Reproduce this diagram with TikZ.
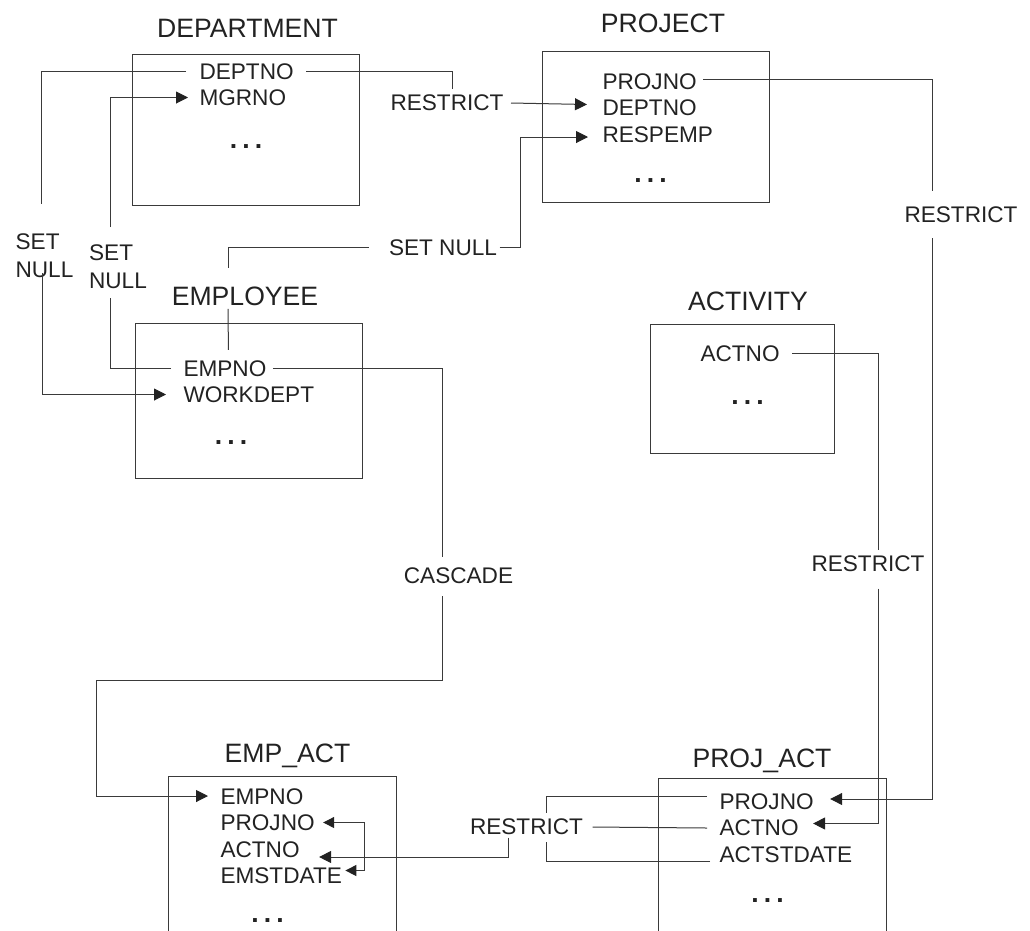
\documentclass[tikz,border=0pt]{standalone}
\usepackage{fontspec}
\setmainfont{Liberation Sans}
\usetikzlibrary{positioning, arrows.meta}
\definecolor{inkDark}{HTML}{222222}
\definecolor{lineGrey}{HTML}{3A3A3A}
\newcommand{\fldfont}{\fontsize{22.6}{28}\selectfont}
\newcommand{\ttlfont}{\fontsize{26.6}{30}\selectfont}

\begin{document}
\begin{tikzpicture}[x=1pt, y=-1pt, line width=1pt, lineGrey, text=inkDark,
    tbl/.style={draw=lineGrey, inner sep=0pt, minimum width=227pt},
    ttl/.style={font=\ttlfont, inner sep=0pt, anchor=base},
    fld/.style={font=\fldfont, anchor=west, inner xsep=12pt, inner ysep=0.25pt,
                text height=20.6pt, text depth=4.4pt},
    lbl/.style={font=\fldfont, inner sep=0pt, align=left},
    ellip/.style={font=\ttlfont\bfseries, inner sep=0pt, anchor=base},
    arr/.style={-{Triangle[length=12pt, width=12pt, color=inkDark]}}]
    \useasboundingbox (0,0) rectangle (1030,930);
    \clip (0,0) rectangle (1030,930);

    % DEPARTMENT
    \node[tbl, minimum height=151pt] (dept) at (245.5,129.5) {};
    \node[ttl] (dTitle) at (247.5,37) {DEPARTMENT};
    \node[fld] (dDeptno) at (187,71) {DEPTNO};
    \node[fld, below=0pt of dDeptno.south west, anchor=north west] (dMgrno) {MGRNO};
    \node[ellip] (dDots) at (246,148) {.\hspace{5.1pt}.\hspace{5.1pt}.};

    % PROJECT
    \node[tbl, minimum height=151pt] (proj) at (655.5,126.5) {};
    \node[ttl] (pTitle) at (663,32) {PROJECT};
    \node[fld] (pProjno) at (590,81) {PROJNO};
    \node[fld, below=0pt of pProjno.south west, anchor=north west] (pDeptno) {DEPTNO};
    \node[fld, below=0pt of pDeptno.south west, anchor=north west] (pRespemp) {RESPEMP};
    \node[ellip] (pDots) at (650.5,182) {.\hspace{5.1pt}.\hspace{5.1pt}.};

    % EMPLOYEE
    \node[tbl, minimum height=155pt] (emp) at (248.5,400.5) {};
    \node[ttl] (eTitle) at (245,305) {EMPLOYEE};
    \node[fld] (eEmpno) at (171,368) {EMPNO};
    \node[fld, below=0pt of eEmpno.south west, anchor=north west] (eWorkdept) {WORKDEPT};
    \node[ellip] (eDots) at (231,444) {.\hspace{5.1pt}.\hspace{5.1pt}.};

    % ACTIVITY
    \node[tbl, minimum width=184pt, minimum height=129pt] (act) at (742,388.5) {};
    \node[ttl] (aTitle) at (748,310) {ACTIVITY};
    \node[fld] (aActno) at (688,353) {ACTNO};
    \node[ellip] (aDots) at (747.5,404) {.\hspace{5.1pt}.\hspace{5.1pt}.};

    % EMP_ACT
    \node[tbl, minimum width=228pt, minimum height=200pt] (empAct) at (282,876) {};
    \node[ttl] (xTitle) at (287.5,762) {EMP\_ACT};
    \node[fld] (xEmpno) at (208,796) {EMPNO};
    \node[fld, below=0pt of xEmpno.south west, anchor=north west] (xProjno) {PROJNO};
    \node[fld, below=0pt of xProjno.south west, anchor=north west] (xActno) {ACTNO};
    \node[fld, below=0pt of xActno.south west, anchor=north west] (xEmstdate) {EMSTDATE};
    \node[ellip] (xDots) at (267.5,922) {.\hspace{5.1pt}.\hspace{5.1pt}.};

    % PROJ_ACT
    \node[tbl, minimum width=228pt, minimum height=200pt] (projAct) at (772,878) {};
    \node[ttl] (qTitle) at (762,767) {PROJ\_ACT};
    \node[fld] (qProjno) at (707,801) {PROJNO};
    \node[fld, below=0pt of qProjno.south west, anchor=north west] (qActno) {ACTNO};
    \node[fld, below=0pt of qActno.south west, anchor=north west] (qActstdate) {ACTSTDATE};
    \node[ellip] (qDots) at (767.5,902) {.\hspace{5.1pt}.\hspace{5.1pt}.};

    % delete rules
    \node[lbl] (snDept) at (44.5,255.5) {SET\\NULL};
    \draw ([xshift=-1pt]dDeptno.west) -| ([xshift=-3.5pt,yshift=29pt]snDept.north);
    \draw[arr] ([xshift=-2.5pt,yshift=5pt]snDept.south) |- ([xshift=-5pt]eWorkdept.west);

    \node[lbl] (snMgr) at (118,266.5) {SET\\NULL};
    \draw (eEmpno.west) -| ([xshift=-7.5pt,yshift=-9pt]snMgr.south);
    \draw[arr] ([xshift=-7.5pt,yshift=17pt]snMgr.north) |- ([xshift=1pt]dMgrno.west);

    \node[lbl] (rsDept) at (447,103) {RESTRICT};
    \draw (dDeptno.east) -| ([xshift=5pt,yshift=6pt]rsDept.north);
    \draw[arr] ([xshift=7pt]rsDept.east) -- ([xshift=-3pt,yshift=3pt]pDeptno.west);

    \node[lbl] (snResp) at (443,247.5) {SET NULL};
    \draw ([xshift=3.5pt,yshift=5pt]eEmpno.north) -- ([xshift=-17pt,yshift=-3pt]eTitle.south);
    \draw ([xshift=-17pt,yshift=18pt]eTitle.north) |- ([xshift=-19pt]snResp.west);
    \draw[arr] ([xshift=2pt]snResp.east) -- ++(21,0) |- ([xshift=-2pt,yshift=-3pt]pRespemp.west);

    \node[lbl] (rsProj) at (961,214.5) {RESTRICT};
    \draw ([xshift=-6pt,yshift=2pt]pProjno.east) -| ([xshift=-29pt,yshift=15pt]rsProj.north);
    \draw[arr] ([xshift=-29pt,yshift=-15pt]rsProj.south) |- ([xshift=4pt,yshift=2pt]qProjno.east);

    \node[lbl] (rsAct) at (868,564) {RESTRICT};
    \draw (aActno.east) -| ([xshift=10pt,yshift=6pt]rsAct.north);
    \draw[arr] ([xshift=10pt,yshift=-16pt]rsAct.south) |- ([xshift=2pt,yshift=4pt]qActno.east);

    \node[lbl] (cascade) at (458.5,575.5) {CASCADE};
    \draw ([xshift=-6pt]eEmpno.east) -| ([xshift=-16.5pt,yshift=10pt]cascade.north);
    \draw[arr] ([xshift=-16.5pt,yshift=-12pt]cascade.south) |- ++(-346,84) |- (xEmpno.west);

    \node[lbl] (rsEmp) at (526.5,827) {RESTRICT};
    \draw ([yshift=5pt]qProjno.west) -| ([xshift=19.5pt,yshift=6pt]rsEmp.north);
    \draw ([yshift=-0.5pt]qActno.west) -- ([xshift=9pt]rsEmp.east);
    \draw ([xshift=3pt,yshift=-7pt]qActstdate.west) -| ([xshift=19.5pt,yshift=-6pt]rsEmp.south);
    \draw[arr] ([xshift=-18.5pt,yshift=-2pt]rsEmp.south) |- ([xshift=7pt,yshift=-8pt]xActno.east);
    \draw[{Triangle[length=11pt, width=11pt, color=inkDark]}-{Triangle[length=11pt, width=11pt, color=inkDark]}]
      ([xshift=-4pt]xProjno.east) -- ++(41,0) |- ([xshift=-9pt,yshift=5pt]xEmstdate.east);
  \end{tikzpicture}
\end{document}
